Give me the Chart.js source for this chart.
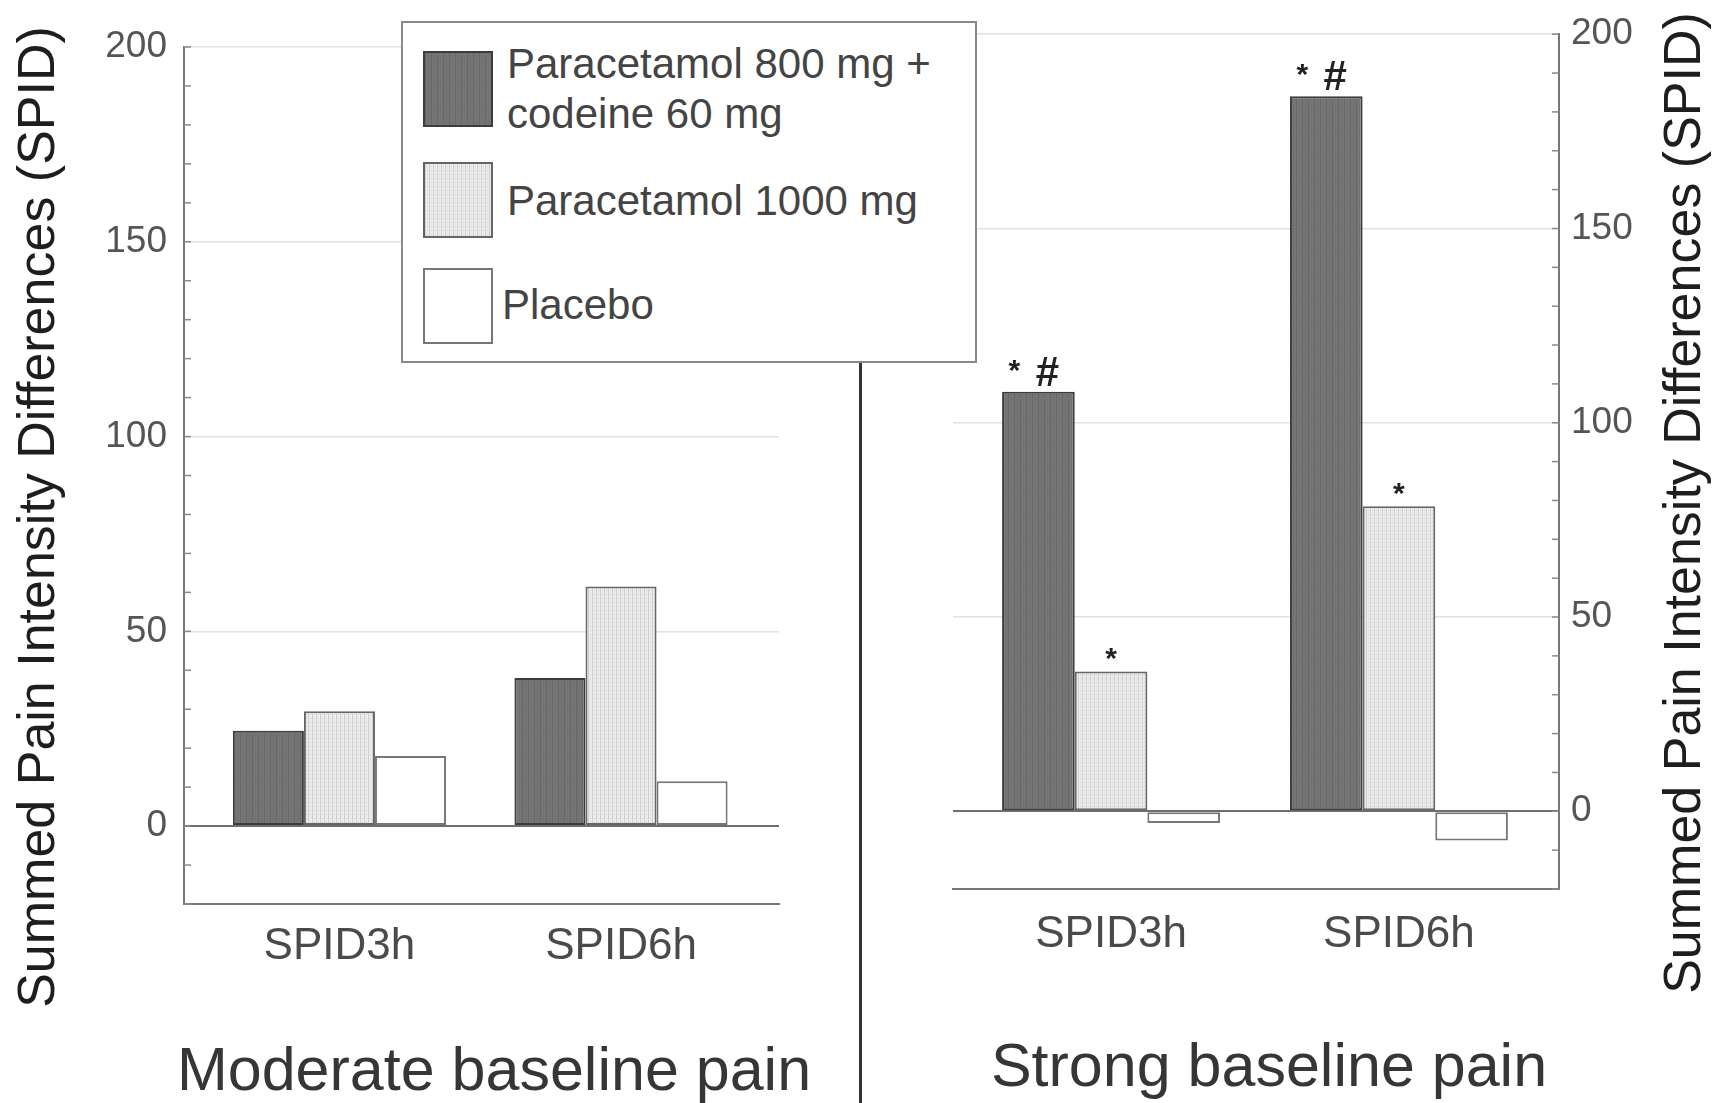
<!DOCTYPE html>
<html>
<head>
<meta charset="utf-8">
<script src="https://cdn.jsdelivr.net/npm/chart.js@4.4.1/dist/chart.umd.min.js"></script>
<style>
  body { margin: 0; background: #fff; width: 1725px; height: 1103px; position: relative; overflow: hidden;
         font-family: 'Liberation Sans', Arial, sans-serif; }
  canvas { position: absolute; top: 0; }
  #left { left: 0; }
  #right { left: 870px; }
  #divider { position: absolute; left: 859px; top: 362px; width: 3px; height: 741px; background: #333; }
  #legend { position: absolute; left: 401px; top: 21px; width: 576px; height: 342px; box-sizing: border-box;
            border: 2px solid #8a8a8a; background: #fff; z-index: 2; }
  #legend .sw { position: absolute; left: 20px; width: 70px; height: 76px; box-sizing: border-box; border: 2px solid #777; }
  #legend .lt { position: absolute; font-size: 42px; line-height: 50px; color: #444; white-space: pre-line; }
</style>
</head>
<body>
<canvas id="left" width="870" height="1103"></canvas>
<canvas id="right" width="855" height="1103"></canvas>
<div id="divider"></div>
<div id="legend"></div>
<script>
// categories and series
const categories = ['SPID3h', 'SPID6h'];
const seriesNames = ['Paracetamol 800 mg +\ncodeine 60 mg', 'Paracetamol 1000 mg', 'Placebo'];

// moderate baseline pain
const modCodeine = [24.5, 38];
const modParacetamol = [29.5, 61.5];
const modPlacebo = [18, 11.5];

// strong baseline pain
const strongCodeine = [108, 184];
const strongParacetamol = [36, 78.5];
const strongPlacebo = [-3, -7.5];

// significance marks above the strong-pain bars
const marksCodeine = ['* #', '* #'];
const marksParacetamol = ['*', '*'];

const yTicks = [0, 50, 100, 150, 200];
const yTitle = 'Summed Pain Intensity Differences (SPID)';
const panelTitles = ['Moderate baseline pain', 'Strong baseline pain'];

const FONT = "'Liberation Sans', Arial, sans-serif";
Chart.defaults.font.family = FONT;

// little fill textures, like the printed figure
function makePattern(base, dot, step) {
  const c = document.createElement('canvas');
  c.width = step; c.height = step;
  const g = c.getContext('2d');
  g.fillStyle = base;
  g.fillRect(0, 0, step, step);
  g.fillStyle = dot;
  g.fillRect(0, 0, 1, step);
  g.fillRect(Math.floor(step / 2), Math.floor(step / 2), 1, 1);
  return c;
}
const darkTex = makePattern('#747474', '#686868', 6);
const lightTex = makePattern('#ececec', '#cfcfcf', 4);
const fills = [
  document.createElement('canvas').getContext('2d').createPattern(darkTex, 'repeat'),
  document.createElement('canvas').getContext('2d').createPattern(lightTex, 'repeat'),
  '#ffffff'
];
const borders = ['#3c3c3c', '#666666', '#777777'];

// legend
const legend = document.getElementById('legend');
const swTops = [28, 139, 245];
const txtPos = [[104, 15.5], [104, 152.5], [99, 256.5]];
const swImgs = [darkTex.toDataURL(), lightTex.toDataURL(), null];
seriesNames.forEach((name, i) => {
  const sw = document.createElement('div');
  sw.className = 'sw';
  sw.style.top = swTops[i] + 'px';
  sw.style.borderColor = borders[i];
  if (swImgs[i]) sw.style.backgroundImage = 'url(' + swImgs[i] + ')';
  legend.appendChild(sw);
  const t = document.createElement('div');
  t.className = 'lt';
  t.style.left = txtPos[i][0] + 'px';
  t.style.top = txtPos[i][1] + 'px';
  t.textContent = name;
  legend.appendChild(t);
});

// minor ticks, rotated y title, panel title, significance marks
const extras = {
  id: 'extras',
  afterDatasetsDraw(chart, args, opts) {
    if (!opts.marks) return;
    const ctx = chart.ctx;
    ctx.save();
    ctx.fillStyle = '#222';
    ctx.textAlign = 'center';
    ctx.textBaseline = 'alphabetic';
    opts.marks.forEach((list, di) => {
      const meta = chart.getDatasetMeta(di);
      list.forEach((m, i) => {
        if (!m) return;
        const bar = meta.data[i];
        const parts = m.split(' ');
        if (parts.length === 2) {
          ctx.font = 'bold 30px ' + FONT;
          ctx.fillText(parts[0], bar.x - 24, bar.y - 12);
          ctx.font = 'bold 42px ' + FONT;
          ctx.fillText(parts[1], bar.x + 9, bar.y - 6);
        } else {
          ctx.font = 'bold 30px ' + FONT;
          ctx.fillText(parts[0], bar.x, bar.y - 3);
        }
      });
    });
    ctx.restore();
  },
  afterDraw(chart, args, opts) {
    const ctx = chart.ctx;
    const y = chart.scales.y;
    const area = chart.chartArea;
    const ax = opts.side === 'left' ? area.left : area.right;
    const dir = opts.side === 'left' ? 1 : -1;
    ctx.save();
    ctx.strokeStyle = '#8a8a8a';
    ctx.lineWidth = 1.5;
    for (let v = y.min; v <= y.max; v += 10) {
      const py = y.getPixelForValue(v);
      ctx.beginPath();
      ctx.moveTo(ax, py);
      ctx.lineTo(ax + dir * 7, py);
      ctx.stroke();
    }
    ctx.fillStyle = '#1e1e1e';
    ctx.font = '52px ' + FONT;
    ctx.textAlign = 'center';
    ctx.textBaseline = 'middle';
    ctx.save();
    ctx.translate(opts.titleX, opts.titleY);
    ctx.rotate(-Math.PI / 2);
    ctx.fillText(yTitle, 0, 0);
    ctx.restore();
    ctx.fillStyle = '#363636';
    ctx.font = '61px ' + FONT;
    ctx.textBaseline = 'alphabetic';
    ctx.fillText(opts.panel, opts.panelX, opts.panelY);
    ctx.restore();
  }
};

function datasets(a, b, c) {
  return [a, b, c].map((d, i) => ({
    label: seriesNames[i],
    data: d,
    backgroundColor: fills[i],
    borderColor: borders[i],
    borderWidth: 2,
    borderSkipped: false,
    barPercentage: 1,
    categoryPercentage: 0.757
  }));
}

function makeChart(id, data, side, cfg) {
  return new Chart(document.getElementById(id), {
    type: 'bar',
    data: { labels: categories.map((c, i) => i), datasets: data },
    options: {
      responsive: false,
      devicePixelRatio: 1,
      animation: false,
      layout: { padding: cfg.padding },
      plugins: {
        legend: { display: false },
        tooltip: { enabled: false },
        extras: cfg.extras
      },
      scales: {
        x: {
          type: 'linear',
          min: cfg.xMin,
          max: cfg.xMax,
          offset: false,
          grid: { display: false },
          border: { color: '#777', width: 2 },
          afterBuildTicks: s => { s.ticks = categories.map((c, i) => ({ value: i })); },
          ticks: { color: '#4a4a4a', font: { size: 44 }, padding: cfg.xPad,
                   callback: v => categories[v] },
          afterFit: s => { s.height = cfg.xHeight; }
        },
        y: {
          position: side,
          min: -20,
          max: 200,
          afterBuildTicks: s => { s.ticks = yTicks.map(v => ({ value: v })); },
          ticks: { color: '#555', font: { size: 37 }, padding: cfg.yPad },
          grid: {
            drawTicks: false,
            color: c => c.tick && c.tick.value === 0 ? '#6e6e6e' : '#e2e2e2',
            lineWidth: c => c.tick && c.tick.value === 0 ? 2 : 1.5
          },
          border: { color: '#777', width: 2 },
          afterFit: s => { s.width = cfg.yWidth; }
        }
      }
    },
    plugins: [extras]
  });
}

makeChart('left', datasets(modCodeine, modParacetamol, modPlacebo), 'left', {
  padding: { top: 47, right: 91, bottom: 0, left: 0 },
  xMin: -0.552, xMax: 1.561,
  xHeight: 199, xPad: 8, yWidth: 184, yPad: 17,
  extras: { side: 'left', titleX: 40, titleY: 517, panel: panelTitles[0], panelX: 494, panelY: 1090 }
});

makeChart('right', datasets(strongCodeine, strongParacetamol, strongPlacebo), 'right', {
  padding: { top: 33, right: 0, bottom: 0, left: 83 },
  xMin: -0.549, xMax: 1.556,
  xHeight: 214, xPad: 11, yWidth: 166, yPad: 12,
  extras: { side: 'right', titleX: 816, titleY: 503, panel: panelTitles[1], panelX: 399, panelY: 1086,
            marks: [marksCodeine, marksParacetamol] }
});
</script>
</body>
</html>
